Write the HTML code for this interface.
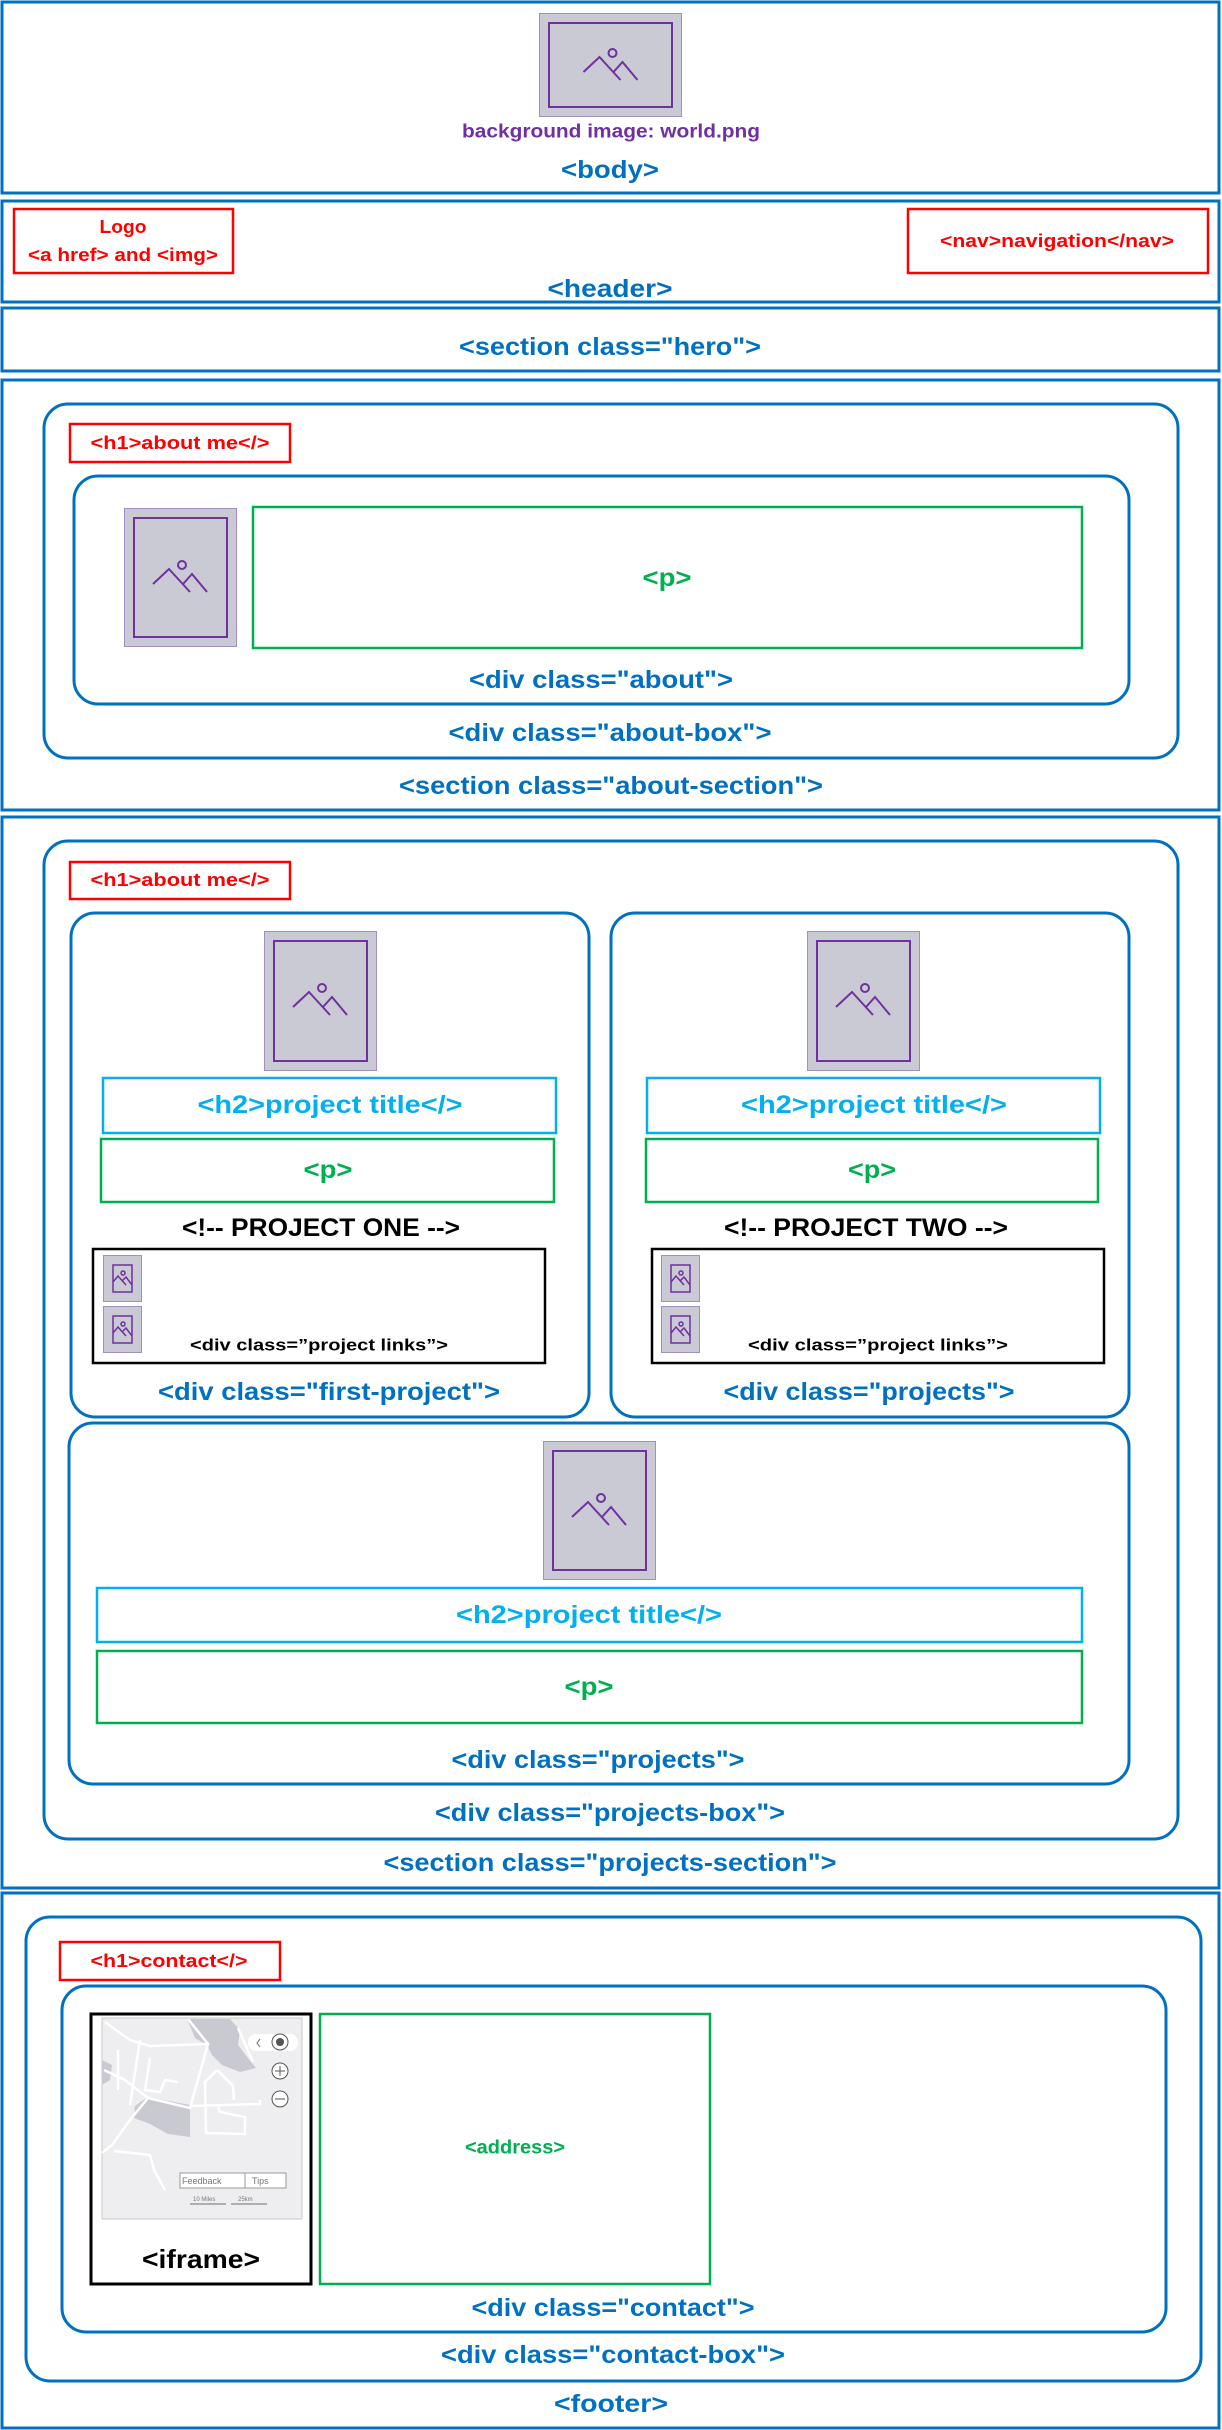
<!DOCTYPE html>
<html><head><meta charset="utf-8"><style>
html,body{margin:0;padding:0;background:#fff;}
svg{display:block;}
text{font-family:"Liberation Sans",sans-serif;font-weight:bold;}
</style></head><body>
<svg width="1222" height="2430" viewBox="0 0 1222 2430" xmlns="http://www.w3.org/2000/svg">
<defs>
<g id="mt">
<polyline points="-27,7 -11,-8 10,15" fill="none" stroke="#7030a0" stroke-width="2"/>
<polyline points="3,7 12,-3 27,15" fill="none" stroke="#7030a0" stroke-width="2"/>
<circle cx="2" cy="-12" r="4" fill="none" stroke="#7030a0" stroke-width="2"/>
</g>
<g id="smt">
<polyline points="-9,3 -4,-3 4,6" fill="none" stroke="#7030a0" stroke-width="1.5"/>
<polyline points="0,2 4,-2 10,6" fill="none" stroke="#7030a0" stroke-width="1.5"/>
<circle cx="1" cy="-6" r="2" fill="none" stroke="#7030a0" stroke-width="1.5"/>
</g>
</defs>
<g fill="none" stroke="#0070c0" stroke-width="3">
<rect x="2" y="2" width="1217" height="191"/>
<rect x="2" y="201" width="1217" height="101"/>
<rect x="2" y="308" width="1217" height="63"/>
<rect x="2" y="380" width="1217" height="430"/>
<rect x="2" y="817" width="1217" height="1071"/>
<rect x="2" y="1893" width="1217" height="535"/>
<rect x="44" y="404" width="1134" height="354" rx="24"/>
<rect x="74" y="476" width="1055" height="228" rx="24"/>
<rect x="44" y="841" width="1134" height="998" rx="24"/>
<rect x="71" y="913" width="518" height="504" rx="24"/>
<rect x="611" y="913" width="518" height="504" rx="24"/>
<rect x="69" y="1423" width="1060" height="361" rx="24"/>
<rect x="26" y="1917" width="1175" height="464" rx="24"/>
<rect x="62" y="1986" width="1104" height="346" rx="24"/>
</g>
<g fill="none" stroke="#ff0000" stroke-width="2.5">
<rect x="14" y="209" width="219" height="64"/>
<rect x="908" y="209" width="300" height="64"/>
<rect x="70" y="424" width="220" height="38"/>
<rect x="70" y="862" width="220" height="37"/>
<rect x="60" y="1942" width="220" height="38"/>
</g>
<g fill="none" stroke="#00b050" stroke-width="2.5">
<rect x="253" y="507" width="829" height="141"/>
<rect x="101" y="1139" width="453" height="63"/>
<rect x="646" y="1139" width="452" height="63"/>
<rect x="97" y="1651" width="985" height="72"/>
<rect x="320" y="2014" width="390" height="270"/>
</g>
<g fill="none" stroke="#00b0f0" stroke-width="2.5">
<rect x="103" y="1078" width="453" height="55"/>
<rect x="647" y="1078" width="453" height="55"/>
<rect x="97" y="1588" width="985" height="54"/>
</g>
<g fill="none" stroke="#000" stroke-width="2.5">
<rect x="93" y="1249" width="452" height="114"/>
<rect x="652" y="1249" width="452" height="114"/>
<rect x="91" y="2014" width="220" height="270" stroke-width="3"/>
</g>
<!-- images -->
<g>
<rect x="539.5" y="13.5" width="142" height="103" fill="#c9cad4" stroke="#a08fc0"/>
<rect x="549" y="23" width="123" height="84" fill="none" stroke="#7030a0" stroke-width="2"/>
<use href="#mt" x="610.5" y="65"/>
<rect x="124.5" y="508.5" width="112" height="138" fill="#c9cad4" stroke="#a08fc0"/>
<rect x="134" y="518" width="93" height="119" fill="none" stroke="#7030a0" stroke-width="2"/>
<use href="#mt" x="180" y="577"/>
<rect x="264.5" y="931.5" width="112" height="139" fill="#c9cad4" stroke="#a08fc0"/>
<rect x="274" y="941" width="93" height="120" fill="none" stroke="#7030a0" stroke-width="2"/>
<use href="#mt" x="320" y="1000"/>
<rect x="807.5" y="931.5" width="112" height="139" fill="#c9cad4" stroke="#a08fc0"/>
<rect x="817" y="941" width="93" height="120" fill="none" stroke="#7030a0" stroke-width="2"/>
<use href="#mt" x="863" y="1000"/>
<rect x="543.5" y="1441.5" width="112" height="138" fill="#c9cad4" stroke="#a08fc0"/>
<rect x="553" y="1451" width="93" height="119" fill="none" stroke="#7030a0" stroke-width="2"/>
<use href="#mt" x="599" y="1510"/>
<g id="si1">
<rect x="103.5" y="1255.5" width="38" height="46" fill="#c9cad4" stroke="#a08fc0"/>
<rect x="113" y="1265" width="19" height="27" fill="none" stroke="#7030a0" stroke-width="1.5"/>
<use href="#smt" x="122" y="1279"/>
</g>
<use href="#si1" x="0" y="51"/>
<use href="#si1" x="558" y="0"/>
<use href="#si1" x="558" y="51"/>
</g>
<!-- map -->
<g transform="translate(90,2010)">
<rect x="12" y="8" width="200" height="201" fill="#eeeef1" stroke="#c8c8cc"/>
<polygon points="97,9 140,9 150,20 148,35 158,48 166,58 150,62 132,55 122,45 117,35 105,28" fill="#c8c9d1"/>
<polygon points="58,87 100,95 100,127 78,124 60,114 44,108 45,96" fill="#c8c9d1"/>
<polygon points="12,50 22,55 20,70 12,75" fill="#c8c9d1"/>
<g fill="none" stroke="#fff" stroke-width="2.5">
<polyline points="15,12 40,30 60,36 118,34 100,98 58,88"/>
<polyline points="14,60 35,70 58,88 40,110 22,135 12,143"/>
<polyline points="50,30 40,95"/>
<polyline points="60,48 55,80 70,82 75,70 88,72"/>
<polyline points="28,40 28,80"/>
<polyline points="98,9 118,34"/>
<polyline points="100,96 170,94 170,90"/>
<polyline points="127,60 115,72 116,123 155,124 155,107 130,102 128,97"/>
<polyline points="127,60 143,76 144,90"/>
<polyline points="24,141 60,145 64,160 75,180"/>
<polyline points="148,18 163,52"/>
</g>
<rect x="158" y="24" width="50" height="17" rx="8" fill="#fff"/>
<polyline points="170,29 167,33 170,37" fill="none" stroke="#666" stroke-width="1"/>
<g fill="#fff" stroke="#555" stroke-width="1">
<circle cx="190" cy="32" r="8"/><circle cx="190" cy="61" r="8"/><circle cx="190" cy="89" r="8"/>
</g>
<circle cx="190" cy="32" r="4" fill="#555"/>
<path d="M185 61h10M190 56v10M185 89h10" stroke="#555" stroke-width="1"/>
<rect x="90" y="163" width="106" height="15" fill="#fff" stroke="#999"/>
<line x1="155" y1="163" x2="155" y2="178" stroke="#999"/>
<text x="92" y="174" style="font-weight:normal" font-size="9" fill="#777">Feedback</text>
<text x="162" y="174" style="font-weight:normal" font-size="9" fill="#777">Tips</text>
<text x="103" y="191" style="font-weight:normal" font-size="6" fill="#777">10 Miles</text>
<text x="148" y="191" style="font-weight:normal" font-size="6" fill="#777">25km</text>
<path d="M100 194h36M141 194h36" stroke="#999" stroke-width="1.5"/>
</g>
<!-- text -->
<g text-anchor="middle" dominant-baseline="central" lengthAdjust="spacingAndGlyphs">
<text x="611" y="132" font-size="19" fill="#7030a0" textLength="298" lengthAdjust="spacingAndGlyphs">background image: world.png</text>
<g fill="#0070c0" font-size="25">
<text x="610" y="170" textLength="98" lengthAdjust="spacingAndGlyphs">&lt;body&gt;</text>
<text x="610" y="289" textLength="125" lengthAdjust="spacingAndGlyphs">&lt;header&gt;</text>
<text x="610" y="347" textLength="302" lengthAdjust="spacingAndGlyphs">&lt;section class="hero"&gt;</text>
<text x="601" y="680" textLength="264" lengthAdjust="spacingAndGlyphs">&lt;div class="about"&gt;</text>
<text x="610" y="733" textLength="323" lengthAdjust="spacingAndGlyphs">&lt;div class="about-box"&gt;</text>
<text x="611" y="786" textLength="424" lengthAdjust="spacingAndGlyphs">&lt;section class="about-section"&gt;</text>
<text x="329" y="1392" textLength="342" lengthAdjust="spacingAndGlyphs">&lt;div class="first-project"&gt;</text>
<text x="869" y="1392" textLength="291" lengthAdjust="spacingAndGlyphs">&lt;div class="projects"&gt;</text>
<text x="598" y="1760" textLength="293" lengthAdjust="spacingAndGlyphs">&lt;div class="projects"&gt;</text>
<text x="610" y="1813" textLength="350" lengthAdjust="spacingAndGlyphs">&lt;div class="projects-box"&gt;</text>
<text x="610" y="1863" textLength="453" lengthAdjust="spacingAndGlyphs">&lt;section class="projects-section"&gt;</text>
<text x="613" y="2308" textLength="283" lengthAdjust="spacingAndGlyphs">&lt;div class="contact"&gt;</text>
<text x="613" y="2355" textLength="344" lengthAdjust="spacingAndGlyphs">&lt;div class="contact-box"&gt;</text>
<text x="611" y="2404" textLength="114" lengthAdjust="spacingAndGlyphs">&lt;footer&gt;</text>
</g>
<g fill="#ff0000" font-size="18">
<text x="123" y="227" textLength="47" lengthAdjust="spacingAndGlyphs">Logo</text>
<text x="123" y="255" textLength="190" lengthAdjust="spacingAndGlyphs">&lt;a href&gt; and &lt;img&gt;</text>
<text x="1057" y="241" textLength="234" lengthAdjust="spacingAndGlyphs">&lt;nav&gt;navigation&lt;/nav&gt;</text>
<text x="180" y="443" textLength="179" lengthAdjust="spacingAndGlyphs">&lt;h1&gt;about me&lt;/&gt;</text>
<text x="180" y="880" textLength="179" lengthAdjust="spacingAndGlyphs">&lt;h1&gt;about me&lt;/&gt;</text>
<text x="169" y="1961" textLength="157" lengthAdjust="spacingAndGlyphs">&lt;h1&gt;contact&lt;/&gt;</text>
</g>
<g fill="#00b050" font-size="25">
<text x="667" y="578" textLength="49" lengthAdjust="spacingAndGlyphs">&lt;p&gt;</text>
<text x="328" y="1170" textLength="49" lengthAdjust="spacingAndGlyphs">&lt;p&gt;</text>
<text x="872" y="1170" textLength="48" lengthAdjust="spacingAndGlyphs">&lt;p&gt;</text>
<text x="589" y="1687" textLength="49" lengthAdjust="spacingAndGlyphs">&lt;p&gt;</text>
<text x="515" y="2148" font-size="19" textLength="100" lengthAdjust="spacingAndGlyphs">&lt;address&gt;</text>
</g>
<g fill="#00b0f0" font-size="25">
<text x="330" y="1105" textLength="265" lengthAdjust="spacingAndGlyphs">&lt;h2&gt;project title&lt;/&gt;</text>
<text x="874" y="1105" textLength="266" lengthAdjust="spacingAndGlyphs">&lt;h2&gt;project title&lt;/&gt;</text>
<text x="589" y="1615" textLength="266" lengthAdjust="spacingAndGlyphs">&lt;h2&gt;project title&lt;/&gt;</text>
</g>
<g fill="#000">
<text x="321" y="1228" font-size="25" textLength="278" lengthAdjust="spacingAndGlyphs">&lt;!-- PROJECT ONE --&gt;</text>
<text x="866" y="1228" font-size="25" textLength="284" lengthAdjust="spacingAndGlyphs">&lt;!-- PROJECT TWO --&gt;</text>
<text x="319" y="1345" font-size="17" textLength="258" lengthAdjust="spacingAndGlyphs">&lt;div class=”project links”&gt;</text>
<text x="878" y="1345" font-size="17" textLength="260" lengthAdjust="spacingAndGlyphs">&lt;div class=”project links”&gt;</text>
<text x="201" y="2259" font-size="26" textLength="118" lengthAdjust="spacingAndGlyphs">&lt;iframe&gt;</text>
</g>
</g>
</svg>
</body></html>
